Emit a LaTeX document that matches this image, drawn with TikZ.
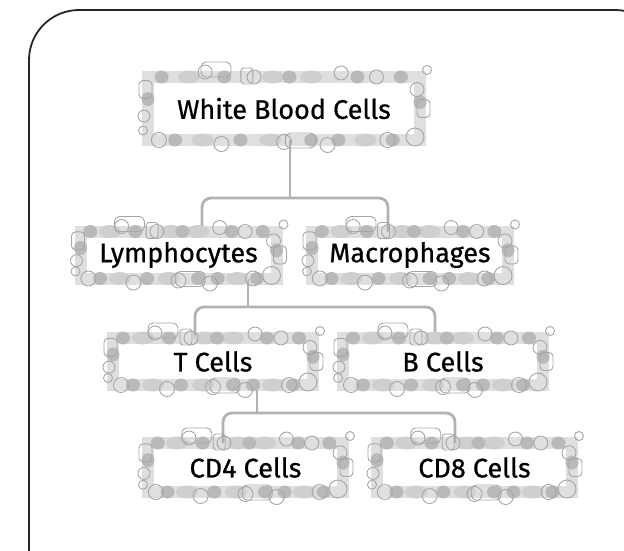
\documentclass[tikz,border=0pt]{standalone}
\usepackage{fontspec}
\setmainfont{Fira Sans}
\newfontfamily\cellfont[FakeBold=0.7]{Fira Sans}
\usepackage{tikz}
\usetikzlibrary{calc}
\tikzstyle{cellbox}=[draw=gray!25,line width=12pt,outer sep=0pt,inner sep=2pt,
  minimum width=196pt,minimum height=47pt,text=black,
  font=\cellfont\fontsize{27}{30}\selectfont]
\tikzstyle{link}=[draw=gray!60,line width=2.8pt,rounded corners=9pt]
\tikzstyle{frame}=[draw=black!85,line width=1.8pt,rounded corners=50pt]
\tikzstyle{blob}=[fill=gray!55]
\tikzstyle{smear}=[fill=gray!38]
\tikzstyle{ring}=[draw=gray!70,line width=0.9pt]

\begin{document}
\begin{tikzpicture}[x=1pt,y=-1pt]
  \useasboundingbox (0,0) rectangle (624,551);
  \clip (0,0) rectangle (624,551);
  \draw[frame] (29,10) rectangle (665,600);

  \node[cellbox,minimum width=272pt,minimum height=63pt] (wbc) at (284,108.5) {White Blood Cells};
  \node[cellbox] (lym) at (178.5,255) {Lymphocytes};
  \node[cellbox] (mac) at (410,255)   {Macrophages};
  \node[cellbox,minimum width=200pt] (tc) at (213,361.5) {T Cells};
  \node[cellbox,minimum width=200pt] (bc) at (443,361.5) {B Cells};
  \node[cellbox,minimum width=195pt,minimum height=49pt] (cd4) at (245.5,467.5) {CD4 Cells};
  \node[cellbox,minimum width=195pt,minimum height=49pt] (cd8) at (474.5,467.5) {CD8 Cells};

  % branch points
  \coordinate (j1) at (290,198);
  \coordinate (j2) at (248,307);
  \coordinate (j3) at (257,413);

  \draw[link] (wbc.south -| j1) -- (j1);
  \draw[link] ([xshift=23.5pt]lym.north) |- (j1) -| ([xshift=-22pt]mac.north);
  \draw[link] (lym.south -| j2) -- (j2);
  \draw[link] ([xshift=-18pt]tc.north) |- (j2) -| ([xshift=-8pt]bc.north);
  \draw[link] (tc.south -| j3) -- (j3);
  \draw[link] ([xshift=-22.5pt]cd4.north) |- (j3) -| ([xshift=-19.5pt]cd8.north);

  % beads round every box
  \foreach \n in {wbc,lym,mac,tc,bc,cd4,cd8} {
    \foreach \f in {0.15,0.46,0.6}
      \fill[smear] ($(\n.north west)!\f!(\n.north east)$) ellipse [x radius=11, y radius=6.5];
    \foreach \f in {0.2,0.45,0.8}
      \fill[smear] ($(\n.south west)!\f!(\n.south east)$) ellipse [x radius=11, y radius=6.5];
    \foreach \f in {0.05,0.28,0.52,0.77,0.93}
      \fill[blob] ($(\n.north west)!\f!(\n.north east)$) ellipse [x radius=7, y radius=6.5];
    \foreach \f in {0.1,0.34,0.6,0.7,0.9}
      \fill[blob] ($(\n.south west)!\f!(\n.south east)$) ellipse [x radius=7, y radius=6.5];
    \fill[blob] ($(\n.north west)!0.35!(\n.south west)$) ellipse [x radius=6.5, y radius=7];
    \fill[blob] ($(\n.north east)!0.4!(\n.south east)$) ellipse [x radius=6.5, y radius=7];
    \foreach \f/\d in {0.21/-5,0.39/0,0.71/-4,0.84/0}
      \draw[ring] ($(\n.north west)!\f!(\n.north east)+(0,\d)$) circle (7);
    \foreach \f/\d in {0.04/0,0.27/4,0.5/2,0.66/5,0.88/0}
      \draw[ring] ($(\n.south west)!\f!(\n.south east)+(0,\d)$) circle (7.5);
    \draw[ring,rounded corners=5pt] ($(\n.north west)!0.25!(\n.north east)+(-15,-15)$) rectangle ++(30,15);
    \draw[ring,rounded corners=5pt] ($(\n.south west)!0.56!(\n.south east)+(-15,-7)$) rectangle ++(30,15);
    \draw[ring,rounded corners=3pt] ($(\n.north west)!0.36!(\n.north east)+(-5,-9)$) rectangle ++(12,16);
    \draw[ring,rounded corners=4pt] ($(\n.north west)!0.2!(\n.south west)+(-9,-9)$) rectangle ++(13,18);
    \draw[ring] ($(\n.north west)!0.62!(\n.south west)+(-4,0)$) circle (6);
    \draw[ring] ($(\n.north west)!0.85!(\n.south west)+(-5,0)$) circle (4.5);
    \draw[ring,rounded corners=4pt] ($(\n.north east)!0.5!(\n.south east)+(-3,-9)$) rectangle ++(13,18);
    \draw[ring] ($(\n.north east)+(7,-7)$) circle (4.5);
    \draw[ring] ($(\n.south east)+(-5,-3)$) circle (9);
    \draw[ring] ($(\n.north east)!0.2!(\n.south east)+(-3,0)$) circle (7);
  }
\end{tikzpicture}
\end{document}
